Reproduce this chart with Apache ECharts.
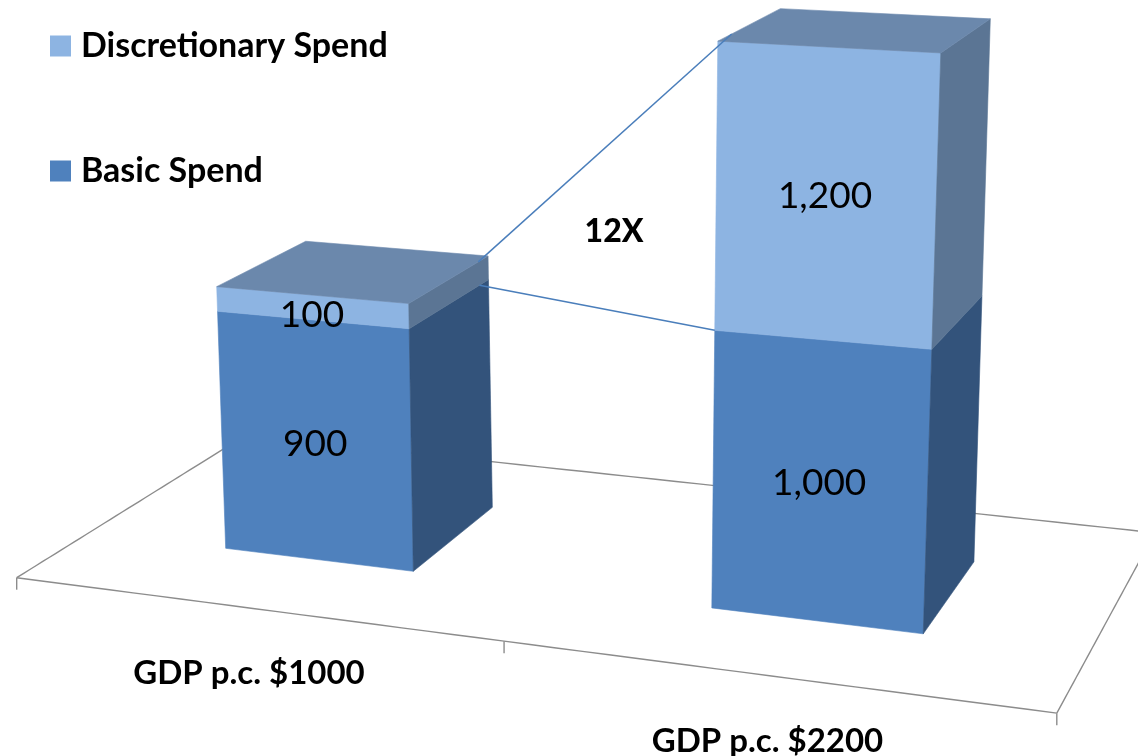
<!DOCTYPE html>
<html>
<head>
<meta charset="utf-8">
<script src="https://cdn.jsdelivr.net/npm/echarts@6/dist/echarts.min.js"></script>
<style>
  html, body { margin: 0; padding: 0; background: #ffffff; }
  #chart { width: 1138px; height: 756px; }
</style>
</head>
<body>
<div id="chart"></div>
<script>
// ---------------- data ----------------
const categories = ['GDP p.c. $1000', 'GDP p.c. $2200'];
const basicSpend = [900, 1000];
const discretionarySpend = [100, 1200];
const seriesNames = ['Discretionary Spend', 'Basic Spend'];

// ---------------- styling / camera ----------------
const COLORS = {
  basicFront: '#4F81BD', basicSide: '#33537B',
  discFront: '#8DB4E2', discSide: '#5B7594', top: '#6B88AC',
  floor: '#8C8C8C', connector: '#4A7EBB'
};
const FONT = 'Lato';
const BAR_FRACTION = 0.4;       // bar width as share of category band
const FLOOR_Z = [-0.7, 1.7];    // floor depth range (bar depth = 0..1)
// pseudo-3D camera (perspective projection parameters)
const CAM = { ox: 225.7, oy: 548.3, ax: 178.12, ay: 9.9, gx: 0.02294,
              k: 279.7, gy: 0.069, leanX: 597, lean: 9.25e-5,
              vp: [1700, -470], fz: 0.06 };

function project(X, Y, Z) {
  const w = 1 - CAM.gx * X;
  const xb = (CAM.ox + CAM.ax * X) / w;
  const yb = (CAM.oy + CAM.ay * X) / w;
  const h = CAM.k * Y / (1 + CAM.gy * Y) / w;
  const fx = xb + (xb - CAM.leanX) * CAM.lean * h;
  const fy = yb - h;
  const f = CAM.fz / w, cz = f / (1 - f);
  const s = 1 / (1 + cz * Z);
  return [CAM.vp[0] + (fx - CAM.vp[0]) * s, CAM.vp[1] + (fy - CAM.vp[1]) * s];
}

// convert scale pixels to world units (2.5 units per category band, values in thousands)
function worldFrom(api) {
  const p0 = api.coord([0, 0]);
  const p1 = api.coord([1, 0]);
  const pK = api.coord([0, 1000]);
  const band = p1[0] - p0[0];
  return {
    X: px => 0.5 + (px - p0[0]) / band * 2.5,
    Y: py => (p0[1] - py) / (p0[1] - pK[1]),
    halfBar: BAR_FRACTION * 2.5 / 2,
    halfBand: 1.25
  };
}

function poly(points, color) {
  return { type: 'polygon', shape: { points: points },
           style: { fill: color, stroke: color, lineWidth: 0.6, lineJoin: 'round' } };
}

function barRenderer(frontColor, sideColor, drawTop) {
  return function (params, api) {
    const W = worldFrom(api);
    const cat = api.value(0);
    const a = api.coord([cat, api.value(1)]);
    const b = api.coord([cat, api.value(2)]);
    const xc = W.X(a[0]);
    const xl = xc - W.halfBar, xr = xc + W.halfBar;
    const y0 = W.Y(a[1]), y1 = W.Y(b[1]);
    const A = project(xl, y0, 0), B = project(xr, y0, 0),
          C = project(xr, y1, 0), D = project(xl, y1, 0);
    const Cb = project(xr, y1, 1), Bb = project(xr, y0, 1), Db = project(xl, y1, 1);
    const children = [
      poly([A, B, C, D], frontColor),
      poly([B, C, Cb, Bb], sideColor)
    ];
    if (drawTop) children.push(poly([D, C, Cb, Db], COLORS.top));
    const mid = project(xc, (y0 + y1) / 2, 0);
    children.push({
      type: 'text', x: mid[0], y: mid[1] + 8,
      style: { text: api.value(3).toLocaleString('en-US'), fill: '#000',
               fontFamily: FONT, fontSize: 37, fontWeight: 'normal',
               align: 'center', verticalAlign: 'middle',
               textAlign: 'center', textVerticalAlign: 'middle' }
    });
    return { type: 'group', children: children };
  };
}

function floorRenderer(params, api) {
  const W = worldFrom(api);
  const x0 = W.X(api.coord([0, 0])[0]) - W.halfBand;
  const x1 = W.X(api.coord([categories.length - 1, 0])[0]) + W.halfBand;
  const N = 40;
  const edge = (fn) => { const pts = []; for (let i = 0; i <= N; i++) pts.push(fn(i / N)); return pts; };
  const line = (pts) => ({ type: 'polyline', shape: { points: pts },
                           style: { stroke: COLORS.floor, lineWidth: 1.4, fill: null } });
  const children = [
    line(edge(t => project(x0 + (x1 - x0) * t, 0, FLOOR_Z[0]))),
    line(edge(t => project(x0 + (x1 - x0) * t, 0, FLOOR_Z[1]))),
    line(edge(t => project(x0, 0, FLOOR_Z[0] + (FLOOR_Z[1] - FLOOR_Z[0]) * t))),
    line(edge(t => project(x1, 0, FLOOR_Z[0] + (FLOOR_Z[1] - FLOOR_Z[0]) * t)))
  ];
  for (let i = 0; i <= categories.length; i++) {
    const p = project(x0 + i * 2 * W.halfBand, 0, FLOOR_Z[0]);
    children.push({ type: 'line', shape: { x1: p[0], y1: p[1], x2: p[0], y2: p[1] + 12 },
                    style: { stroke: COLORS.floor, lineWidth: 1.4 } });
  }
  categories.forEach((name, i) => {
    const p = project(W.X(api.coord([i, 0])[0]), 0, FLOOR_Z[0]);
    children.push({
      type: 'text', x: p[0] - 4, y: p[1] + 65,
      style: { text: name, fill: '#000', fontFamily: FONT, fontSize: 33, fontWeight: 'bold',
               align: 'center', verticalAlign: 'middle',
               textAlign: 'center', textVerticalAlign: 'middle' }
    });
  });
  return { type: 'group', children: children };
}

function connectorRenderer(params, api) {
  const W = worldFrom(api);
  const xa = W.X(api.coord([0, 0])[0]) + W.halfBar;
  const xb = W.X(api.coord([1, 0])[0]) - W.halfBar;
  const Yv = v => W.Y(api.coord([0, v])[1]);
  const t0 = basicSpend[0] + discretionarySpend[0], t1 = basicSpend[1] + discretionarySpend[1];
  const p1 = project(xa, Yv(t0), 0.87), q1 = project(xb, Yv(t1), 0.21);
  const p2 = project(xa, Yv(basicSpend[0]), 0.88), q2 = project(xb, Yv(basicSpend[1]), 0);
  const ls = { stroke: COLORS.connector, lineWidth: 1.5 };
  const cx = (p1[0] + q1[0] + p2[0] + q2[0]) / 4 + 13;
  const cy = (p1[1] + q1[1] + p2[1] + q2[1]) / 4 + 4;
  const ratio = Math.round(discretionarySpend[1] / discretionarySpend[0]);
  return { type: 'group', children: [
    { type: 'line', shape: { x1: p1[0], y1: p1[1], x2: q1[0], y2: q1[1] }, style: ls },
    { type: 'line', shape: { x1: p2[0], y1: p2[1], x2: q2[0], y2: q2[1] }, style: ls },
    { type: 'text', x: cx, y: cy,
      style: { text: ratio + 'X', fill: '#000', fontFamily: FONT, fontSize: 32, fontWeight: 900,
               align: 'center', verticalAlign: 'middle',
               textAlign: 'center', textVerticalAlign: 'middle' } }
  ] };
}

const basicData = categories.map((c, i) => [i, 0, basicSpend[i], basicSpend[i]]);
const discData = categories.map((c, i) => [i, basicSpend[i], basicSpend[i] + discretionarySpend[i], discretionarySpend[i]]);

const chart = echarts.init(document.getElementById('chart'), null, { renderer: 'canvas' });
chart.setOption({
  animation: false,
  backgroundColor: '#ffffff',
  grid: { left: 100, right: 100, top: 100, bottom: 100 },
  xAxis: { type: 'category', data: categories, show: false },
  yAxis: { type: 'value', min: 0, max: 2500, show: false },
  legend: {
    data: seriesNames, orient: 'vertical', left: 50, top: 29, padding: 0,
    itemWidth: 21, itemHeight: 21, itemGap: 91, icon: 'rect',
    selectedMode: false,
    textStyle: { fontFamily: FONT, fontWeight: 'bold', fontSize: 34, color: '#000',
                 lineHeight: 21, padding: [0, 0, 0, 5] }
  },
  series: [
    { type: 'custom', name: 'floor', data: [[0]], renderItem: floorRenderer, silent: true, z: 1 },
    { type: 'custom', name: seriesNames[1], data: basicData, itemStyle: { color: COLORS.basicFront },
      renderItem: barRenderer(COLORS.basicFront, COLORS.basicSide, false), z: 2 },
    { type: 'custom', name: seriesNames[0], data: discData, itemStyle: { color: COLORS.discFront },
      renderItem: barRenderer(COLORS.discFront, COLORS.discSide, true), z: 3 },
    { type: 'custom', name: 'connectors', data: [[0]], renderItem: connectorRenderer, silent: true, z: 4 }
  ]
});
</script>
</body>
</html>
